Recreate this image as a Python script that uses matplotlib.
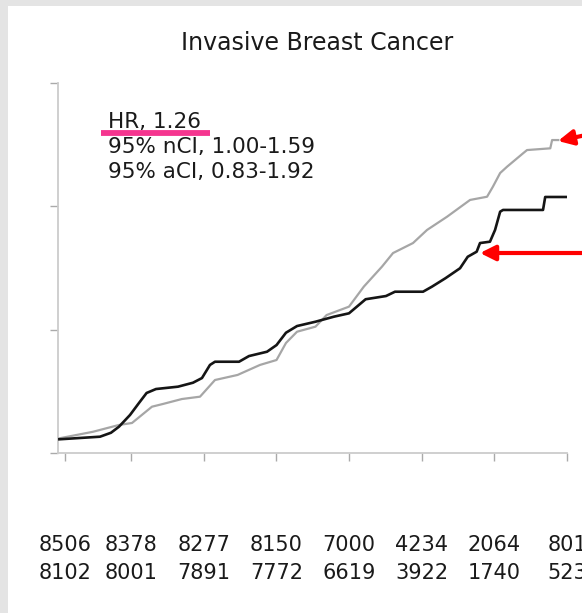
import matplotlib.pyplot as plt
from matplotlib.patches import Rectangle
import numpy as np

# cumulative hazard (in %), time in years
years = [0, 1, 2, 3, 4, 5, 6, 7]

ep_t = [0.015, 0.478, 0.835, 1.014, 1.289, 1.44, 1.70, 1.95, 2.156, 2.467,
        2.775, 3.003, 3.133, 3.285, 3.539, 3.692, 4.0, 4.204, 4.454, 4.606,
        4.881, 5.074, 5.349, 5.666, 5.90, 5.98, 6.08, 6.175, 6.40, 6.45,
        6.77, 6.795, 6.88]
ep_h = [0.119, 0.172, 0.227, 0.243, 0.375, 0.397, 0.437, 0.456, 0.591, 0.632,
        0.713, 0.753, 0.891, 0.982, 1.023, 1.117, 1.185, 1.347, 1.509, 1.619,
        1.70, 1.806, 1.913, 2.049, 2.075, 2.156, 2.267, 2.318, 2.429, 2.453,
        2.467, 2.534, 2.534]

pl_t = [0.015, 0.574, 0.725, 0.835, 0.987, 1.11, 1.215, 1.344, 1.647, 1.853,
        1.977, 2.087, 2.156, 2.487, 2.624, 2.872, 3.003, 3.133, 3.285, 3.539,
        3.794, 4.0, 4.229, 4.509, 4.633, 5.019, 5.142, 5.327, 5.528, 5.634,
        5.757, 5.803, 5.94, 6.01, 6.08, 6.12, 6.67, 6.70, 7.01]
pl_h = [0.111, 0.132, 0.164, 0.213, 0.308, 0.405, 0.486, 0.518, 0.537, 0.569,
        0.607, 0.713, 0.739, 0.739, 0.785, 0.820, 0.874, 0.974, 1.028, 1.063,
        1.104, 1.131, 1.245, 1.271, 1.306, 1.306, 1.347, 1.415, 1.496, 1.589,
        1.63, 1.70, 1.711, 1.806, 1.954, 1.968, 1.968, 2.073, 2.073]

at_risk_ep = ["8506", "8378", "8277", "8150", "7000", "4234", "2064", "801"]
at_risk_pl = ["8102", "8001", "7891", "7772", "6619", "3922", "1740", "523"]

stats = ["HR, 1.26", "95% nCI, 1.00-1.59", "95% aCI, 0.83-1.92"]
title = "Invasive Breast Cancer"

W, H = 582, 613
fig = plt.figure(figsize=(W / 100, H / 100), dpi=100, facecolor="#e4e4e4")
fig.patches.append(Rectangle((8 / W, 0), 1, (H - 6) / H, transform=fig.transFigure,
                             facecolor="white", edgecolor="none", zorder=-5))

left, right, top, bottom = 58.3, 567, 82.5, 453
ax = fig.add_axes([left / W, (H - bottom) / H, (right - left) / W, (bottom - top) / H])
ax.set_facecolor("none")
ax.set_zorder(1)

ax.plot(ep_t, ep_h, color="#a6a6a6", lw=1.6, zorder=3)
ax.plot(pl_t, pl_h, color="#151515", lw=1.9, zorder=4)

# the first tick sits a little right of the origin in the original
tick_x = [0.09] + years[1:]
ax.set_xlim(0, 7)
ax.set_ylim(0, 3)
ax.set_xticks(tick_x)
ax.set_yticks([0, 1, 2, 3])
ax.set_xticklabels([])
ax.set_yticklabels([])
for s in ["top", "right"]:
    ax.spines[s].set_visible(False)
for s in ["left", "bottom"]:
    ax.spines[s].set_color("#cccccc")
    ax.spines[s].set_linewidth(1.3)
ax.tick_params(axis="both", direction="out", length=5.5, width=1.0, color="#aaaaaa")

txt = dict(family="DejaVu Sans", color="#1a1a1a")
fig.text(317.5 / W, 1 - 43 / H, title, ha="center", va="center", fontsize=17, **txt)
for i, s in enumerate(stats):
    fig.text(107.5 / W, 1 - (121.7 + 25 * i) / H, s, ha="left", va="center", fontsize=15.5, **txt)

# numbers at risk under each year tick
xpix = ax.transData.transform(np.column_stack([tick_x, np.zeros(len(tick_x))]))[:, 0]
for xp, a, b in zip(xpix, at_risk_ep, at_risk_pl):
    fig.text(xp / W, 1 - 545 / H, a, ha="center", va="center", fontsize=15, **txt)
    fig.text(xp / W, 1 - 573 / H, b, ha="center", va="center", fontsize=15, **txt)

# pink underline under HR
fig.lines.append(plt.Line2D([101 / W, 210 / W], [1 - 132.7 / H] * 2, transform=fig.transFigure,
                            color="#f5358f", lw=4.2, solid_capstyle="butt", zorder=5))

# red arrows
arrow = dict(arrowstyle="-|>,head_length=0.9,head_width=0.45", color="#ff0000", lw=3,
             shrinkA=0, shrinkB=0)
ax.annotate("", xy=(558, H - 141), xytext=(600, H - 132), xycoords="figure pixels",
            textcoords="figure pixels", arrowprops=arrow, annotation_clip=False)
ax.annotate("", xy=(480, H - 253), xytext=(600, H - 253), xycoords="figure pixels",
            textcoords="figure pixels", arrowprops=arrow, annotation_clip=False)

fig.savefig("out.png", dpi=100)
